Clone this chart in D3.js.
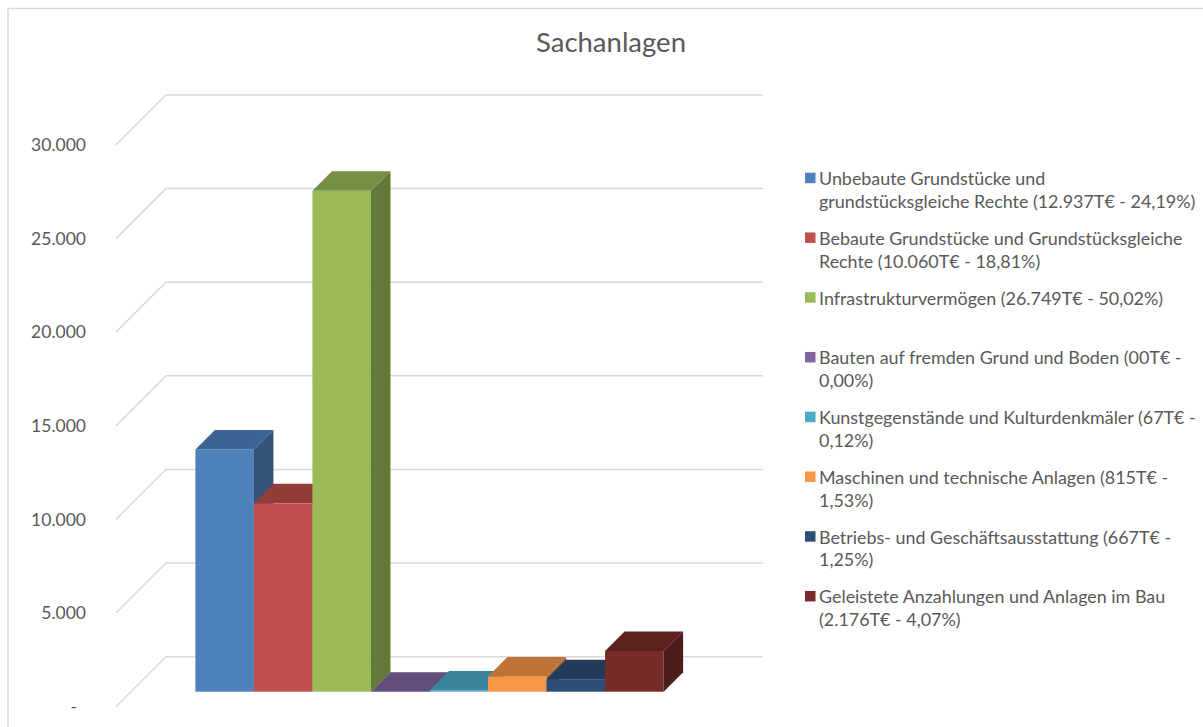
<!DOCTYPE html>
<html><head><meta charset="utf-8">
<script src="https://cdn.jsdelivr.net/npm/d3@7"></script>
<style>
html,body{margin:0;padding:0;background:#fff;}
svg{display:block;}
text{font-family:Lato,"Open Sans",sans-serif;fill:#595959;}
</style></head>
<body>
<svg id="chart" width="1203" height="727"></svg>
<script>
// ---- data ----
const title = "Sachanlagen";
const categories = ["Unbebaute Grundstücke", "Bebaute Grundstücke", "Infrastrukturvermögen", "Bauten auf fremden Grund", "Kunstgegenstände", "Maschinen", "Betriebs- und Geschäftsausstattung", "Geleistete Anzahlungen"];
const values = [12937, 10060, 26749, 0, 67, 815, 667, 2176];
const colors = ["#4F81BD", "#C0504D", "#9BBB59", "#8064A2", "#4BACC6", "#F79646", "#2C4D75", "#772C2A"];
const legendLines = [
  ["Unbebaute Grundstücke und", "grundstücksgleiche Rechte (12.937T€ - 24,19%)"],
  ["Bebaute Grundstücke und Grundstücksgleiche", "Rechte (10.060T€ - 18,81%)"],
  ["Infrastrukturvermögen (26.749T€ - 50,02%)"],
  ["Bauten auf fremden Grund und Boden (00T€ -", "0,00%)"],
  ["Kunstgegenstände und Kulturdenkmäler (67T€ -", "0,12%)"],
  ["Maschinen und technische Anlagen (815T€ -", "1,53%)"],
  ["Betriebs- und Geschäftsausstattung (667T€ -", "1,25%)"],
  ["Geleistete Anzahlungen und Anlagen im Bau", "(2.176T€ - 4,07%)"]
];
const yTicks = [0, 5000, 10000, 15000, 20000, 25000, 30000];
const yDomain = [0, 30000];

// ---- layout ----
const svg = d3.select("#chart");
const wallLeft = 166, wallRight = 763;
const wallDepth = 50;          // side wall offset (x and y)
const barFront = 35, barBack = 15.5; // bar front/back plane offsets from back wall
const y = d3.scaleLinear().domain(yDomain).range([656.7, 95]);
const x = d3.scaleBand().domain(categories)
  .range([wallLeft - barFront, wallRight - barFront])
  .paddingInner(0).paddingOuter(1.1);
const de = d3.formatLocale({decimal: ",", thousands: ".", grouping: [3], currency: ["", "€"]});
const fmt = v => v === 0 ? "-" : de.format(",.0f")(v);

// frame
svg.append("rect").attr("x", 8).attr("y", 8.5).attr("width", 1400).attr("height", 900)
  .attr("fill", "none").attr("stroke", "#d9d9d9").attr("stroke-width", 1.5);

// title
svg.append("text").attr("x", 611).attr("y", 52).attr("text-anchor", "middle")
  .style("font-size", "27.5px").text(title);

// gridlines (back wall + side wall)
const grid = svg.append("g").attr("stroke", "#d9d9d9").attr("stroke-width", 1.5).attr("fill", "none");
yTicks.forEach(t => {
  grid.append("path").attr("d", `M${wallLeft - wallDepth},${y(t) + wallDepth}L${wallLeft},${y(t)}L${wallRight},${y(t)}`);
});

// y axis labels
svg.append("g").selectAll("text").data(yTicks).join("text")
  .attr("x", d => d === 0 ? 77 : 86).attr("y", d => y(d) + wallDepth).attr("dy", "0.35em")
  .attr("text-anchor", "end").style("font-size", "17.5px").text(fmt);

// bars
const dd = barFront - barBack;
const bars = svg.append("g");
categories.forEach((c, i) => {
  const v = values[i];
  const x0 = x(c), x1 = x(c) + x.bandwidth();
  const yb = y(0) + barFront, yt = y(v) + barFront;
  const col = d3.color(colors[i]);
  const g = bars.append("g");
  g.append("rect").attr("x", x0).attr("y", yt).attr("width", x1 - x0).attr("height", Math.max(0, yb - yt))
    .attr("fill", col.formatHex());
  g.append("path").attr("d", `M${x1},${yt}L${x1 + dd},${yt - dd}L${x1 + dd},${yb - dd}L${x1},${yb}Z`)
    .attr("fill", col.darker(1.25).formatHex());
  g.append("path").attr("d", `M${x0},${yt}L${x1},${yt}L${x1 + dd},${yt - dd}L${x0 + dd},${yt - dd}Z`)
    .attr("fill", col.darker(0.75).formatHex());
});

// legend
const lg = svg.append("g");
legendLines.forEach((lines, i) => {
  const by = 185 + i * 59.75;
  lg.append("rect").attr("x", 805).attr("y", by - 12.3).attr("width", 10.5).attr("height", 10.5).attr("fill", colors[i]);
  lines.forEach((l, j) => {
    lg.append("text").attr("x", 819).attr("y", by + j * 22.8).style("font-size", "17.9px").text(l);
  });
});
</script>
</body></html>
